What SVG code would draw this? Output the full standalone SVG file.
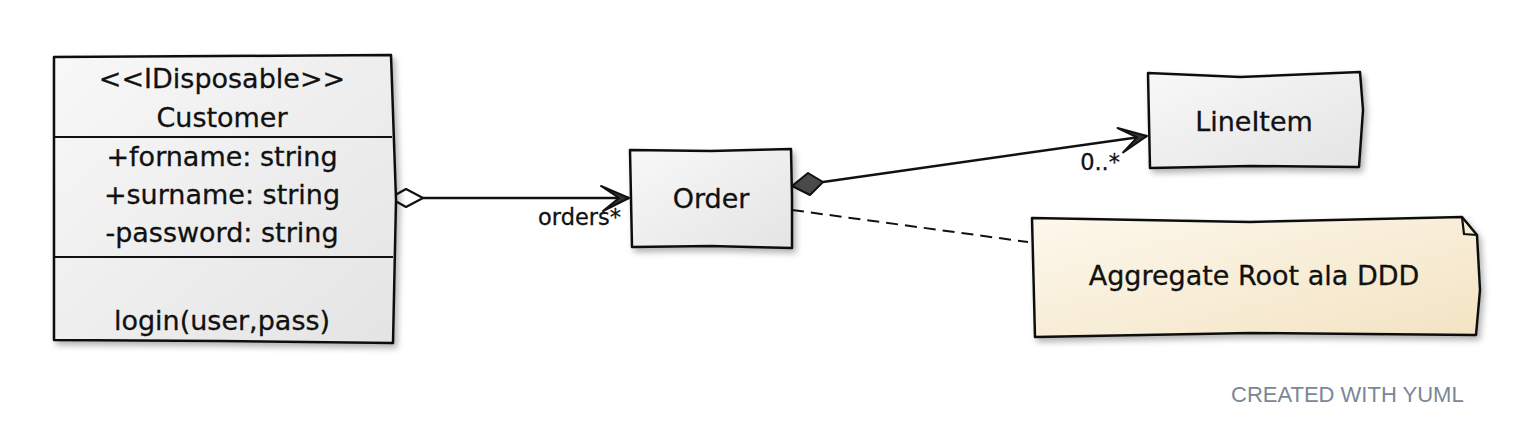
<svg xmlns="http://www.w3.org/2000/svg" width="1524" height="442" viewBox="0 0 1524 442">
<style>
.box{fill:url(#gBox);stroke:#111;stroke-width:2.5;stroke-linejoin:round;filter:url(#sh)}
.note{fill:url(#gNote);stroke:#111;stroke-width:2.5;stroke-linejoin:round;filter:url(#sh)}
.div{stroke:#111;stroke-width:2.2;fill:none}
.t{font-family:"DejaVu Sans","Noto Sans",sans-serif;font-size:27px;fill:#111;stroke:#111;stroke-width:0.3;text-anchor:middle}
.lbl{font-family:"DejaVu Sans","Noto Sans",sans-serif;font-size:22.5px;fill:#111;stroke:#111;stroke-width:0.3;text-anchor:end}
.edge{stroke:#111;stroke-width:2.5;fill:none}
.dash{stroke:#111;stroke-width:2;fill:none;stroke-dasharray:12 7}
.foot{font-family:"Liberation Sans",Arial,sans-serif;font-size:22px;fill:#7a8797}
</style>
<defs>
<linearGradient id="gBox" x1="0" y1="0" x2="1" y2="1">
<stop offset="0" stop-color="#f8f8f8"/>
<stop offset="1" stop-color="#e4e4e4"/>
</linearGradient>
<linearGradient id="gNote" x1="0" y1="0" x2="1" y2="1">
<stop offset="0" stop-color="#fdf8ec"/>
<stop offset="1" stop-color="#f3e3c3"/>
</linearGradient>
<filter id="sh" x="-10%" y="-10%" width="125%" height="130%">
<feGaussianBlur in="SourceAlpha" stdDeviation="3"/>
<feOffset dx="3" dy="4" result="b"/>
<feComponentTransfer><feFuncA type="linear" slope="0.3"/></feComponentTransfer>
<feMerge><feMergeNode/><feMergeNode in="SourceGraphic"/></feMerge>
</filter>
<marker id="arrow" markerUnits="userSpaceOnUse" markerWidth="34" markerHeight="32" refX="31" refY="16" orient="auto" overflow="visible">
<path d="M3,4 L31,16 L5,29 L21,16 Z" fill="#333" stroke="#111" stroke-width="2" stroke-linejoin="round"/>
</marker>
</defs>

<g id="connectors">
<path class="edge" d="M423,198 L629,198" marker-end="url(#arrow)"/>
<path d="M390,198 L406,189 L423,198 L406,207 Z" fill="#fff" stroke="#111" stroke-width="2.2" stroke-linejoin="round"/>
<text class="lbl" x="621" y="225">orders*</text>
<path class="edge" d="M823,182 L1147,136" marker-end="url(#arrow)"/>
<path d="M792,186 L808,173 L823,182 L810,195 Z" fill="#4a4a4a" stroke="#111" stroke-width="2" stroke-linejoin="round"/>
<text class="lbl" x="1120" y="170">0..*</text>
<path class="dash" d="M792,210 L1028,242"/>
</g>

<g id="customer">
<path class="box" d="M54,57 L222,56 L391,55 L396,200 L393,343 L222,341 L54,340 Z"/>
<path class="div" d="M55,137 L392,137"/>
<path class="div" d="M55,257 L393,257"/>
<text class="t" x="222" y="88">&lt;&lt;IDisposable&gt;&gt;</text>
<text class="t" x="222" y="127">Customer</text>
<text class="t" x="222" y="166">+forname: string</text>
<text class="t" x="222" y="204">+surname: string</text>
<text class="t" x="222" y="242">-password: string</text>
<text class="t" x="222" y="330">login(user,pass)</text>
</g>

<g id="order">
<path class="box" d="M630,150 L711,151 L791,149 L792,198 L792,248 L711,246 L632,247 Z"/>
<text class="t" x="711" y="208">Order</text>
</g>

<g id="lineitem">
<path class="box" d="M1148,73 L1240,77 L1360,72 L1363,110 L1359,167 L1250,166 L1150,168 Z"/>
<text class="t" x="1254" y="131">LineItem</text>
</g>

<g id="note">
<path class="note" d="M1032,218 L1250,222 L1462,217 L1477,235 L1480,290 L1476,335 L1250,333 L1035,337 Z"/>
<path class="div" d="M1462,217 L1464,234 L1477,235"/>
<text class="t" x="1254" y="285">Aggregate Root ala DDD</text>
</g>

<text class="foot" x="1231" y="402">CREATED WITH YUML</text>
</svg>
